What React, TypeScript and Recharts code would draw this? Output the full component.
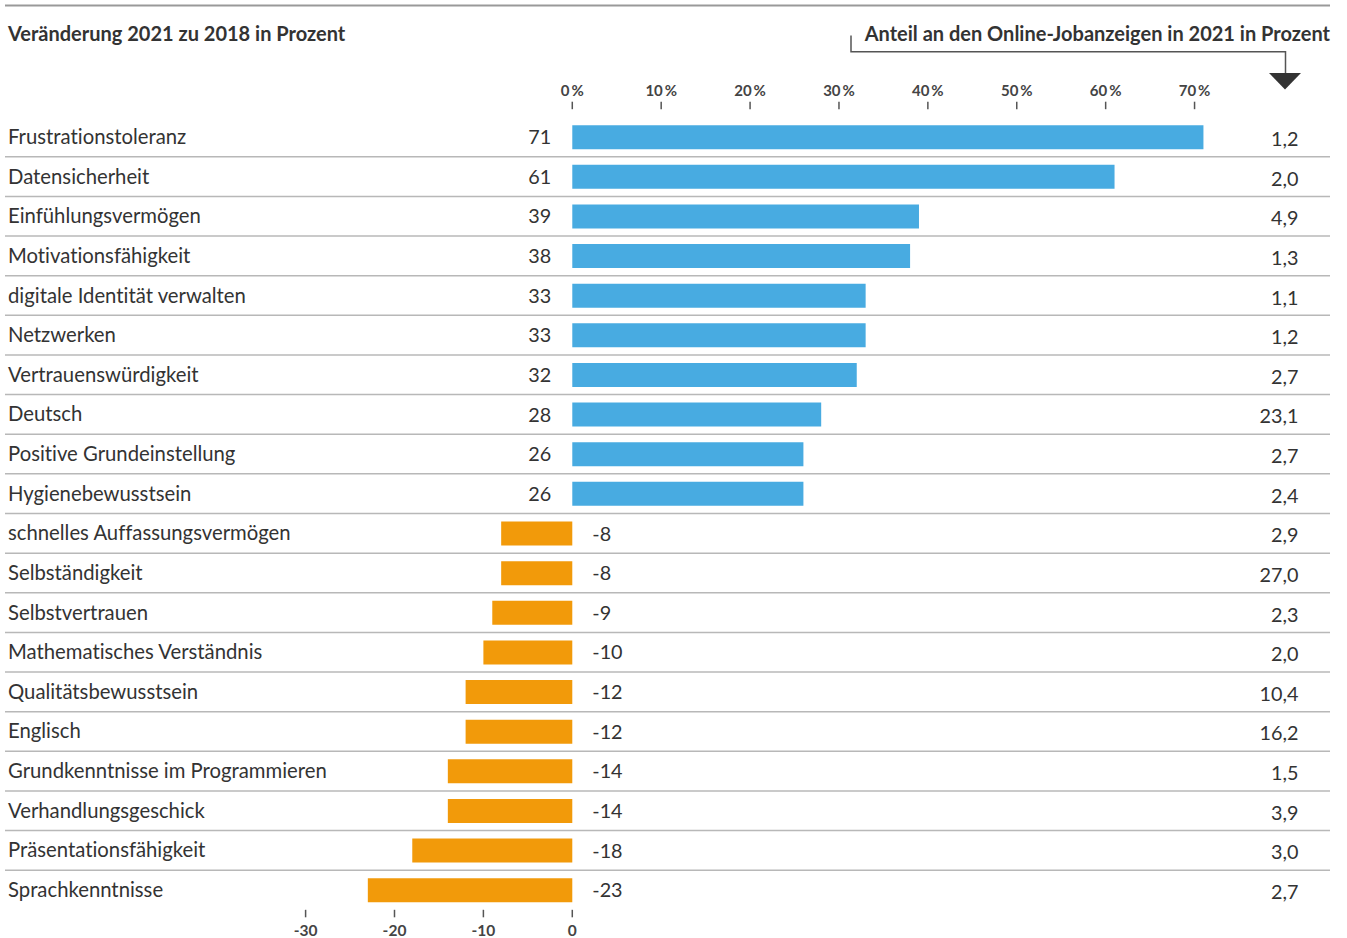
import { BarChart, Bar, XAxis, YAxis, Cell, LabelList } from "recharts";

const categories = [
  "Frustrationstoleranz",
  "Datensicherheit",
  "Einfühlungsvermögen",
  "Motivationsfähigkeit",
  "digitale Identität verwalten",
  "Netzwerken",
  "Vertrauenswürdigkeit",
  "Deutsch",
  "Positive Grundeinstellung",
  "Hygienebewusstsein",
  "schnelles Auffassungsvermögen",
  "Selbständigkeit",
  "Selbstvertrauen",
  "Mathematisches Verständnis",
  "Qualitätsbewusstsein",
  "Englisch",
  "Grundkenntnisse im Programmieren",
  "Verhandlungsgeschick",
  "Präsentationsfähigkeit",
  "Sprachkenntnisse",
];

// Veränderung 2021 zu 2018 in Prozent
const changes = [71, 61, 39, 38, 33, 33, 32, 28, 26, 26, -8, -8, -9, -10, -12, -12, -14, -14, -18, -23];

// Anteil an den Online-Jobanzeigen in 2021 in Prozent
const shares = [1.2, 2.0, 4.9, 1.3, 1.1, 1.2, 2.7, 23.1, 2.7, 2.4, 2.9, 27.0, 2.3, 2.0, 10.4, 16.2, 1.5, 3.9, 3.0, 2.7];

const topTicks = [0, 10, 20, 30, 40, 50, 60, 70];
const bottomTicks = [-30, -20, -10, 0];

const data = categories.map((name, i) => ({ name, change: changes[i], share: shares[i] }));

const WIDTH = 1347;
const HEIGHT = 938;
const MARGIN = { top: 87.2, right: 107, bottom: 0, left: 304.6 };
const TOP_AXIS_H = 30;
const BOTTOM_AXIS_H = 28.2;
const BAND = (HEIGHT - MARGIN.top - TOP_AXIS_H - MARGIN.bottom - BOTTOM_AXIS_H) / data.length;

const FONT = "Lato, 'Noto Sans', sans-serif";
const TEXT = "#333333";
const BLUE = "#48abe1";
const ORANGE = "#f29a0a";
const NO_LIGA = { fontVariantLigatures: "none" as const };

const fmtShare = (v: number) => v.toFixed(1).replace(".", ",");

const TopTick = ({ x, y, payload }: any) => (
  <g>
    <line x1={x} x2={x} y1={y - 15.5} y2={y - 8} stroke="#555" strokeWidth={1.5} />
    <text x={x} y={y - 21.5} textAnchor="middle" fontFamily={FONT} fontWeight={700} fontSize={15} fill="#444">
      {`${payload.value}\u2009%`}
    </text>
  </g>
);

const BottomTick = ({ x, y, payload }: any) => (
  <g>
    <line x1={x} x2={x} y1={y} y2={y + 7.5} stroke="#555" strokeWidth={1.5} />
    <text x={x} y={y + 26} textAnchor="middle" fontFamily={FONT} fontWeight={700} fontSize={15.5} fill="#444">
      {payload.value}
    </text>
  </g>
);

const LeftTick = ({ y, payload, index }: any) => (
  <g>
    <text x={8} y={y + 7} textAnchor="start" fontFamily={FONT} fontSize={20.3} fill={TEXT} style={NO_LIGA}>
      {payload.value}
    </text>
    {index < data.length - 1 && (
      <line x1={5} x2={1330} y1={y + BAND / 2} y2={y + BAND / 2} stroke="#b8b8b8" strokeWidth={1.5} />
    )}
  </g>
);

const RightTick = ({ y, payload }: any) => {
  const row = data.find((d) => d.name === payload.value);
  return (
    <text x={1298.5} y={y + 9} textAnchor="end" fontFamily={FONT} fontSize={19.8} fill={TEXT}>
      {row ? fmtShare(row.share) : ""}
    </text>
  );
};

const ValueLabel = ({ x, y, width, height, value }: any) => {
  const left = Math.min(x, x + width);
  const right = Math.max(x, x + width);
  const zero = value >= 0 ? left : right;
  const cy = y + height / 2 + 7;
  return (
    <text
      x={value >= 0 ? zero - 21 : zero + 20}
      y={cy}
      textAnchor={value >= 0 ? "end" : "start"}
      fontFamily={FONT}
      fontSize={19.8}
      fill={TEXT}
    >
      {value}
    </text>
  );
};

export default function App() {
  return (
    <div style={{ position: "absolute", left: 0, top: 0, width: WIDTH, height: HEIGHT, background: "#fff" }}>
      <BarChart width={WIDTH} height={HEIGHT} data={data} layout="vertical" margin={MARGIN}>
        <XAxis
          xAxisId="top"
          orientation="top"
          type="number"
          domain={[-30, 75]}
          allowDataOverflow
          ticks={topTicks}
          interval={0}
          height={TOP_AXIS_H}
          axisLine={false}
          tickLine={false}
          tickSize={0}
          tickMargin={0}
          tick={<TopTick />}
        />
        <XAxis
          xAxisId="bottom"
          orientation="bottom"
          type="number"
          domain={[-30, 75]}
          allowDataOverflow
          ticks={bottomTicks}
          interval={0}
          height={BOTTOM_AXIS_H}
          axisLine={false}
          tickLine={false}
          tickSize={0}
          tickMargin={0}
          tick={<BottomTick />}
        />
        <YAxis
          yAxisId="left"
          orientation="left"
          type="category"
          dataKey="name"
          width={1}
          interval={0}
          axisLine={false}
          tickLine={false}
          tick={<LeftTick />}
        />
        <YAxis
          yAxisId="right"
          orientation="right"
          type="category"
          dataKey="name"
          width={1}
          interval={0}
          axisLine={false}
          tickLine={false}
          tick={<RightTick />}
        />
        <Bar dataKey="change" xAxisId="bottom" yAxisId="left" barSize={24} isAnimationActive={false}>
          {data.map((d, i) => (
            <Cell key={`c-${i}`} fill={d.change >= 0 ? BLUE : ORANGE} />
          ))}
          <LabelList dataKey="change" content={<ValueLabel />} />
        </Bar>
      </BarChart>
      <svg
        width={WIDTH}
        height={HEIGHT}
        style={{ position: "absolute", left: 0, top: 0, pointerEvents: "none" }}
      >
        <line x1={5} x2={1330} y1={5.5} y2={5.5} stroke="#999" strokeWidth={2} />
        <text x={8} y={41} fontFamily={FONT} fontWeight={700} fontSize={20} fill={TEXT}>
          Veränderung 2021 zu 2018 in Prozent
        </text>
        <text x={1330} y={41} textAnchor="end" fontFamily={FONT} fontWeight={700} fontSize={20} fill={TEXT}>
          Anteil an den Online-Jobanzeigen in 2021 in Prozent
        </text>
        <path d="M851 35.5 V51.7 H1285.5 V73.5" fill="none" stroke="#555" strokeWidth={1.5} />
        <polygon points="1269,73 1301,73 1285,89.5" fill="#333" />
      </svg>
    </div>
  );
}
